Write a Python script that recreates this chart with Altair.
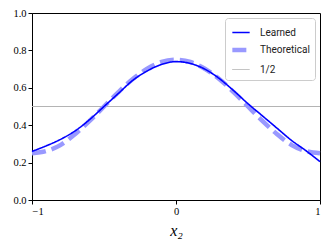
import altair as alt
import pandas as pd

x_vals = [-1.0, -0.9, -0.8, -0.7, -0.6, -0.5, -0.4, -0.3, -0.2, -0.1, 0.0,
          0.1, 0.2, 0.3, 0.4, 0.5, 0.6, 0.7, 0.8, 0.9, 1.0]
learned = [0.26, 0.29, 0.325, 0.37, 0.43, 0.50, 0.57, 0.64, 0.69, 0.725, 0.74,
           0.73, 0.70, 0.65, 0.585, 0.515, 0.45, 0.385, 0.32, 0.265, 0.205]
theoretical = [0.25, 0.262, 0.295, 0.353, 0.423, 0.50, 0.577, 0.647, 0.702, 0.738, 0.75,
               0.738, 0.702, 0.647, 0.577, 0.50, 0.423, 0.353, 0.295, 0.262, 0.25]
half_x = [-1.0, 1.0]
half_y = [0.5, 0.5]
series_names = ["Learned", "Theoretical", "1/2"]
series_colors = ["#0000ff", "#9999ff", "#b4b4b4"]
series_widths = [1.6, 4.5, 1.0]
series_dashes = [[1, 0], [14, 6], [1, 0]]

rows = []
for xv, yv in zip(half_x, half_y):
    rows.append({"x": xv, "y": yv, "series": "1/2", "o": 0})
for xv, yv in zip(x_vals, theoretical):
    rows.append({"x": xv, "y": yv, "series": "Theoretical", "o": 1})
for xv, yv in zip(x_vals, learned):
    rows.append({"x": xv, "y": yv, "series": "Learned", "o": 2})
df = pd.DataFrame(rows)

leg = alt.Legend(title=None, orient="top-right", offset=5, symbolType="stroke",
                 symbolSize=300, labelFont="Roboto", labelFontSize=10,
                 labelColor="#222222", padding=5, fillColor="white",
                 strokeColor="#cccccc", cornerRadius=3, rowPadding=1,
                 labelOffset=8)

chart = alt.Chart(df).mark_line(interpolate="monotone", strokeCap="butt").encode(
    x=alt.X("x:Q", scale=alt.Scale(domain=[-1, 1], nice=False),
            axis=alt.Axis(values=[-1, 0, 1],
                          labelExpr="datum.value < 0 ? '\u2212' + format(-datum.value, 'd') : format(datum.value, 'd')",
                          title="x\u2082", titleFont="Liberation Serif", titleFontStyle="italic",
                          titleFontWeight="normal", titleFontSize=16, titlePadding=6)),
    y=alt.Y("y:Q", scale=alt.Scale(domain=[0, 1], nice=False),
            axis=alt.Axis(values=[0, 0.2, 0.4, 0.6, 0.8, 1.0], format=".1f", title=None)),
    color=alt.Color("series:N", scale=alt.Scale(domain=series_names, range=series_colors), legend=leg),
    strokeWidth=alt.StrokeWidth("series:N", scale=alt.Scale(type="ordinal", domain=series_names, range=series_widths), legend=leg),
    strokeDash=alt.StrokeDash("series:N", scale=alt.Scale(type="ordinal", domain=series_names, range=series_dashes), legend=leg),
    order=alt.Order("o:Q"),
).properties(
    width=288, height=187,
    autosize=alt.AutoSizeParams(type="none"),
    padding={"left": 24, "top": 5, "right": 4, "bottom": 40},
).configure_view(
    stroke="black", strokeWidth=1
).configure_axis(
    grid=False, domainColor="black", tickColor="black", tickSize=4,
    labelFont="Liberation Serif", labelFontSize=10.5, labelColor="black",
    labelPadding=2, domainWidth=1, tickWidth=1, titleColor="black"
)

chart.save("out.html", embed_options={"renderer": "svg", "actions": False})
